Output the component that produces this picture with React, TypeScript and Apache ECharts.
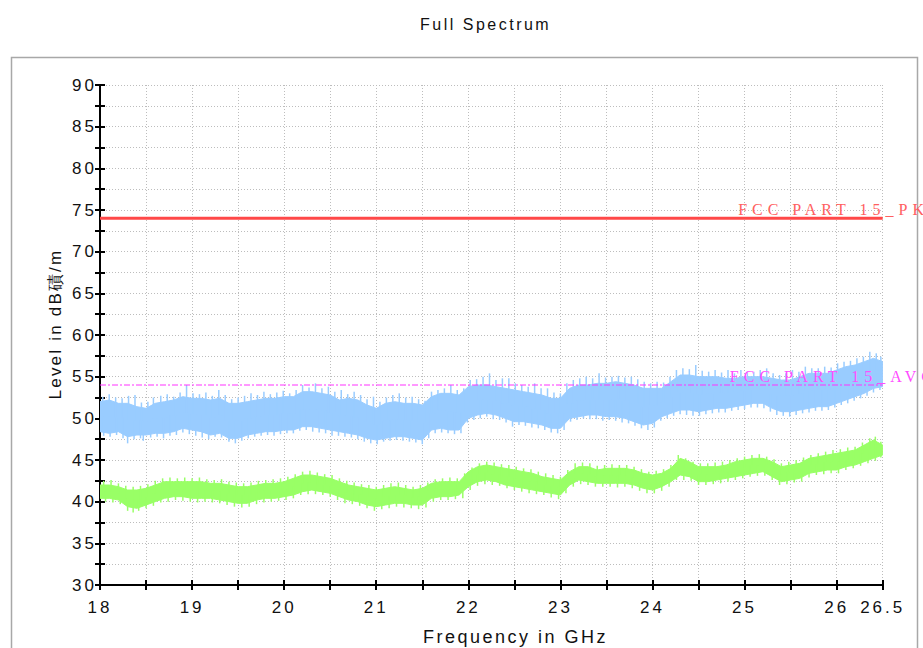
import React, { useEffect, useRef } from "react";
import * as echarts from "echarts";

// Frequency grid of the envelope readings (GHz), 18.0 … 26.5 in 0.1 steps
const freqGHz: number[] = [
  18.0, 18.1, 18.2, 18.3, 18.4, 18.5, 18.6, 18.7, 18.8, 18.9,
  19.0, 19.1, 19.2, 19.3, 19.4, 19.5, 19.6, 19.7, 19.8, 19.9,
  20.0, 20.1, 20.2, 20.3, 20.4, 20.5, 20.6, 20.7, 20.8, 20.9,
  21.0, 21.1, 21.2, 21.3, 21.4, 21.5, 21.6, 21.7, 21.8, 21.9,
  22.0, 22.1, 22.2, 22.3, 22.4, 22.5, 22.6, 22.7, 22.8, 22.9,
  23.0, 23.1, 23.2, 23.3, 23.4, 23.5, 23.6, 23.7, 23.8, 23.9,
  24.0, 24.1, 24.2, 24.3, 24.4, 24.5, 24.6, 24.7, 24.8, 24.9,
  25.0, 25.1, 25.2, 25.3, 25.4, 25.5, 25.6, 25.7, 25.8, 25.9,
  26.0, 26.1, 26.2, 26.3, 26.4, 26.5,
];

// Peak detector trace: upper / lower edge of the noise band (dBµV/m)
const peakHigh: number[] = [
  52.0, 52.2, 51.8, 51.8, 51.4, 51.2, 51.8, 52.0, 52.2, 52.6,
  52.4, 52.4, 52.2, 52.4, 51.8, 51.8, 52.0, 52.2, 52.4, 52.4,
  52.6, 52.6, 53.2, 53.2, 53.0, 52.8, 52.2, 52.4, 52.2, 51.6,
  51.2, 51.8, 52.0, 51.8, 51.8, 51.6, 52.6, 53.0, 53.0, 52.8,
  53.8, 54.0, 54.0, 53.8, 53.6, 53.4, 53.2, 53.0, 52.8, 52.4,
  52.4, 53.6, 54.0, 54.0, 54.2, 54.2, 54.4, 54.2, 54.0, 53.6,
  53.6, 53.6, 54.4, 55.2, 55.2, 55.0, 55.0, 55.0, 54.8, 54.8,
  55.0, 55.0, 55.0, 54.8, 54.6, 54.6, 55.0, 55.4, 55.4, 55.4,
  55.8, 56.2, 56.4, 56.8, 57.2, 56.8,
];
const peakLow: number[] = [
  48.4, 48.2, 48.4, 47.8, 48.0, 48.0, 48.2, 48.2, 48.4, 48.8,
  48.6, 48.4, 48.0, 48.2, 47.6, 47.6, 48.0, 48.2, 48.4, 48.4,
  48.6, 48.6, 49.0, 49.0, 48.8, 48.6, 48.4, 48.2, 48.0, 47.6,
  47.4, 47.6, 47.8, 47.8, 47.6, 47.4, 48.6, 48.8, 48.6, 48.6,
  50.0, 50.4, 50.6, 50.4, 50.0, 49.6, 49.6, 49.4, 49.2, 48.8,
  48.8, 50.0, 50.2, 50.4, 50.4, 50.2, 50.2, 50.0, 49.6, 49.2,
  49.4, 50.2, 50.6, 51.0, 51.0, 50.8, 51.0, 51.2, 51.2, 51.4,
  51.6, 51.8, 51.8, 51.2, 50.8, 50.8, 51.0, 51.2, 51.4, 51.4,
  51.8, 52.2, 52.6, 53.0, 53.6, 53.8,
];
// Peak-trace excursions beyond the band: [GHz, tip dB]
const peakUp: number[][] = [
  [18.03, 52.6], [18.1, 52.9], [18.17, 52.5], [18.24, 52.4], [18.31, 52.7], [18.38, 52.8],
  [18.45, 51.9], [18.52, 52.0], [18.58, 52.5], [18.66, 52.7], [18.73, 52.9], [18.8, 52.6],
  [18.87, 53.1], [18.94, 54.0], [19.01, 53.0], [19.08, 52.9], [19.15, 53.1], [19.22, 52.7],
  [19.29, 53.4], [19.36, 52.8], [19.43, 52.3], [19.5, 52.5], [19.57, 52.7], [19.64, 53.0],
  [19.71, 52.8], [19.78, 53.2], [19.85, 52.9], [19.92, 53.1], [19.99, 53.3], [20.06, 53.0],
  [20.13, 53.4], [20.2, 54.0], [20.27, 53.7], [20.34, 54.2], [20.41, 53.6], [20.48, 53.8],
  [20.55, 53.2], [20.62, 53.4], [20.69, 52.9], [20.76, 53.2], [20.83, 52.8], [20.9, 52.3],
  [20.97, 52.6], [21.04, 52.0], [21.11, 52.5], [21.18, 52.8], [21.25, 53.0], [21.32, 52.5],
  [21.39, 52.6], [21.46, 52.3], [21.53, 52.1], [21.6, 53.2], [21.67, 53.4], [21.74, 53.6],
  [21.81, 54.0], [21.88, 53.4], [21.95, 53.6], [22.02, 54.6], [22.09, 54.7], [22.16, 55.0],
  [22.23, 55.4], [22.3, 54.6], [22.37, 54.8], [22.44, 54.8], [22.51, 54.2], [22.58, 54.0],
  [22.65, 53.8], [22.72, 54.2], [22.79, 53.6], [22.86, 53.6], [22.93, 53.1], [23.0, 53.0],
  [23.07, 54.2], [23.14, 54.6], [23.21, 54.8], [23.28, 55.0], [23.35, 54.8], [23.42, 55.4],
  [23.49, 54.9], [23.56, 55.0], [23.63, 55.1], [23.7, 54.9], [23.77, 55.0], [23.84, 54.7],
  [23.91, 54.4], [23.98, 54.2], [24.05, 54.4], [24.12, 54.3], [24.19, 55.0], [24.26, 55.8],
  [24.33, 56.0], [24.4, 55.9], [24.47, 56.4], [24.54, 55.7], [24.61, 55.6], [24.68, 55.8],
  [24.75, 55.5], [24.82, 55.8], [24.89, 55.4], [24.96, 55.8], [25.03, 55.6], [25.1, 55.6],
  [25.17, 55.8], [25.24, 56.0], [25.31, 55.4], [25.38, 55.2], [25.45, 55.4], [25.52, 55.8],
  [25.59, 55.6], [25.66, 56.2], [25.73, 56.0], [25.8, 56.0], [25.87, 56.2], [25.94, 56.1],
  [26.01, 56.6], [26.08, 56.8], [26.15, 56.9], [26.22, 57.2], [26.29, 57.4], [26.36, 58.0],
  [26.43, 57.8], [26.48, 57.4],
];
const peakDown: number[][] = [
  [18.04, 47.9], [18.11, 47.8], [18.18, 48.0], [18.25, 47.6], [18.3, 47.0], [18.37, 47.5],
  [18.44, 47.6], [18.47, 47.3], [18.55, 47.7], [18.62, 47.8], [18.69, 47.6], [18.76, 47.9],
  [18.83, 48.0], [18.9, 48.3], [18.97, 48.1], [19.04, 47.9], [19.11, 47.7], [19.18, 47.5],
  [19.25, 47.8], [19.32, 47.7], [19.4, 47.2], [19.47, 47.0], [19.54, 47.3], [19.61, 47.6],
  [19.68, 47.8], [19.75, 47.9], [19.82, 48.0], [19.89, 47.9], [19.96, 48.1], [20.03, 48.2],
  [20.1, 48.2], [20.17, 48.5], [20.24, 48.6], [20.31, 48.4], [20.38, 48.3], [20.45, 48.2],
  [20.52, 47.9], [20.59, 47.9], [20.66, 47.8], [20.73, 47.7], [20.8, 47.5], [20.87, 47.2],
  [20.94, 47.0], [21.01, 46.9], [21.08, 47.2], [21.15, 47.3], [21.22, 47.4], [21.29, 47.3],
  [21.36, 47.2], [21.43, 47.1], [21.5, 46.9], [21.57, 47.6], [21.64, 48.2], [21.71, 48.3],
  [21.78, 48.2], [21.85, 48.1], [21.92, 48.2], [21.99, 49.5], [22.06, 49.8], [22.13, 50.0],
  [22.2, 50.2], [22.27, 49.9], [22.34, 49.8], [22.41, 49.5], [22.48, 49.0], [22.55, 49.2],
  [22.62, 49.1], [22.69, 48.9], [22.76, 48.8], [22.83, 48.6], [22.9, 48.3], [22.97, 48.2],
  [23.04, 48.6], [23.11, 49.6], [23.18, 49.8], [23.25, 50.0], [23.32, 49.9], [23.39, 49.9],
  [23.46, 49.7], [23.53, 49.8], [23.6, 49.7], [23.67, 49.5], [23.74, 49.4], [23.81, 49.1],
  [23.88, 48.8], [23.95, 48.6], [24.02, 48.9], [24.09, 49.7], [24.16, 50.0], [24.23, 50.3],
  [24.3, 50.5], [24.37, 50.4], [24.44, 50.3], [24.51, 50.3], [24.58, 50.5], [24.65, 50.6],
  [24.72, 50.7], [24.79, 50.7], [24.86, 50.9], [24.93, 51.0], [25.0, 51.1], [25.07, 51.3],
  [25.14, 51.3], [25.21, 51.2], [25.28, 50.8], [25.35, 50.4], [25.42, 50.3], [25.49, 50.2],
  [25.56, 50.4], [25.63, 50.6], [25.7, 50.7], [25.77, 50.9], [25.84, 50.9], [25.91, 51.0],
  [25.98, 51.3], [26.05, 51.6], [26.12, 51.8], [26.19, 52.1], [26.26, 52.4], [26.33, 52.7],
  [26.4, 53.1], [26.47, 53.4],
];

// Average detector trace: upper / lower edge (dBµV/m)
const avgHigh: number[] = [
  42.0, 42.0, 41.8, 41.4, 41.4, 41.6, 42.0, 42.4, 42.4, 42.4,
  42.4, 42.4, 42.2, 42.2, 42.0, 41.8, 41.8, 42.0, 42.2, 42.2,
  42.4, 42.8, 43.2, 43.2, 43.0, 42.8, 42.4, 42.0, 41.8, 41.6,
  41.4, 41.6, 41.8, 41.6, 41.4, 41.6, 42.2, 42.4, 42.4, 42.4,
  43.6, 44.2, 44.4, 44.2, 44.0, 43.8, 43.6, 43.4, 43.0, 42.8,
  42.6, 43.6, 44.2, 44.2, 43.8, 44.0, 44.0, 44.0, 43.8, 43.4,
  43.2, 43.4, 44.0, 45.2, 44.8, 44.2, 44.2, 44.2, 44.4, 44.8,
  45.0, 45.2, 45.2, 44.8, 44.2, 44.4, 44.6, 45.2, 45.4, 45.6,
  45.8, 46.0, 46.2, 46.8, 47.4, 46.8,
];
const avgLow: number[] = [
  40.4, 40.4, 40.2, 39.4, 39.2, 39.6, 40.0, 40.4, 40.6, 40.6,
  40.4, 40.4, 40.4, 40.2, 40.0, 39.8, 39.8, 40.2, 40.4, 40.4,
  40.6, 40.8, 41.2, 41.4, 41.2, 41.0, 40.6, 40.2, 40.0, 39.6,
  39.4, 39.6, 39.8, 39.8, 39.6, 39.6, 40.4, 40.6, 40.6, 40.8,
  41.8, 42.4, 42.6, 42.4, 42.0, 41.8, 41.6, 41.4, 41.2, 41.0,
  40.8, 42.0, 42.6, 42.4, 42.2, 42.2, 42.2, 42.2, 42.0, 41.6,
  41.4, 41.8, 42.4, 43.2, 43.0, 42.4, 42.4, 42.6, 42.8, 43.0,
  43.2, 43.4, 43.6, 43.0, 42.4, 42.6, 42.8, 43.4, 43.6, 43.8,
  43.8, 44.2, 44.4, 44.8, 45.2, 45.6,
];
const avgUp: number[][] = [
  [18.04, 42.5], [18.12, 42.6], [18.2, 42.2], [18.28, 41.9], [18.36, 41.8], [18.44, 41.9],
  [18.52, 42.1], [18.6, 42.5], [18.68, 42.8], [18.76, 42.9], [18.84, 42.8], [18.92, 42.9],
  [19.0, 42.8], [19.08, 42.9], [19.16, 42.7], [19.24, 42.6], [19.32, 42.7], [19.4, 42.4],
  [19.48, 42.3], [19.56, 42.2], [19.64, 42.3], [19.72, 42.5], [19.8, 42.6], [19.88, 42.7],
  [19.96, 42.8], [20.04, 43.0], [20.12, 43.3], [20.2, 43.6], [20.28, 43.7], [20.36, 43.5],
  [20.44, 43.3], [20.52, 43.2], [20.6, 42.8], [20.68, 42.5], [20.76, 42.3], [20.84, 42.1],
  [20.92, 42.0], [21.0, 41.8], [21.08, 42.0], [21.16, 42.2], [21.24, 42.3], [21.32, 42.0],
  [21.4, 41.8], [21.48, 42.0], [21.56, 42.3], [21.64, 42.7], [21.72, 42.8], [21.8, 42.9],
  [21.88, 42.8], [21.96, 43.4], [22.04, 44.1], [22.12, 44.6], [22.2, 44.8], [22.28, 44.7],
  [22.36, 44.5], [22.44, 44.4], [22.52, 44.2], [22.6, 44.0], [22.68, 43.9], [22.76, 43.6],
  [22.84, 43.4], [22.92, 43.2], [23.0, 43.0], [23.08, 43.8], [23.16, 44.6], [23.24, 44.7],
  [23.32, 44.6], [23.4, 44.3], [23.48, 44.4], [23.56, 44.5], [23.64, 44.4], [23.72, 44.4],
  [23.8, 44.2], [23.88, 43.9], [23.96, 43.6], [24.04, 43.7], [24.12, 43.9], [24.2, 44.4],
  [24.28, 45.6], [24.36, 45.2], [24.44, 44.8], [24.52, 44.6], [24.6, 44.6], [24.68, 44.7],
  [24.76, 44.8], [24.84, 45.0], [24.92, 45.2], [25.0, 45.4], [25.08, 45.6], [25.16, 45.7],
  [25.24, 45.4], [25.32, 45.1], [25.4, 44.6], [25.48, 44.8], [25.56, 45.0], [25.64, 45.3],
  [25.72, 45.6], [25.8, 45.8], [25.88, 46.0], [25.96, 46.2], [26.04, 46.3], [26.12, 46.5],
  [26.2, 46.6], [26.28, 47.1], [26.36, 47.6], [26.42, 47.8], [26.48, 47.2],
];
const avgDown: number[][] = [
  [18.06, 40.0], [18.14, 39.9], [18.22, 39.7], [18.3, 38.9], [18.36, 38.7], [18.42, 38.9],
  [18.5, 39.2], [18.58, 39.5], [18.66, 39.9], [18.74, 40.0], [18.82, 40.2], [18.9, 40.1],
  [18.98, 40.0], [19.06, 39.9], [19.14, 40.0], [19.22, 39.9], [19.3, 39.8], [19.38, 39.6],
  [19.46, 39.4], [19.54, 39.3], [19.62, 39.4], [19.7, 39.7], [19.78, 39.9], [19.86, 40.0],
  [19.94, 40.1], [20.02, 40.2], [20.1, 40.4], [20.18, 40.8], [20.26, 40.9], [20.34, 40.9],
  [20.42, 40.8], [20.5, 40.6], [20.58, 40.2], [20.66, 39.8], [20.74, 39.7], [20.82, 39.5],
  [20.9, 39.2], [20.98, 38.9], [21.06, 39.1], [21.14, 39.2], [21.22, 39.4], [21.3, 39.3],
  [21.38, 39.2], [21.46, 39.1], [21.54, 39.3], [21.62, 40.0], [21.7, 40.2], [21.78, 40.2],
  [21.86, 40.3], [21.94, 40.4], [22.02, 41.4], [22.1, 41.9], [22.18, 42.1], [22.26, 42.0],
  [22.34, 41.9], [22.42, 41.6], [22.5, 41.4], [22.58, 41.2], [22.66, 41.0], [22.74, 40.9],
  [22.82, 40.8], [22.9, 40.5], [22.98, 40.3], [23.06, 41.0], [23.14, 41.8], [23.22, 42.1],
  [23.3, 42.0], [23.38, 41.8], [23.46, 41.8], [23.54, 41.8], [23.62, 41.7], [23.7, 41.8],
  [23.78, 41.6], [23.86, 41.3], [23.94, 41.0], [24.02, 41.0], [24.1, 41.3], [24.18, 41.8],
  [24.26, 42.6], [24.34, 42.6], [24.42, 42.5], [24.5, 42.0], [24.58, 42.0], [24.66, 42.1],
  [24.74, 42.2], [24.82, 42.4], [24.9, 42.6], [24.98, 42.8], [25.06, 43.0], [25.14, 43.1],
  [25.22, 43.1], [25.3, 42.6], [25.38, 42.0], [25.46, 42.1], [25.54, 42.3], [25.62, 42.4],
  [25.7, 42.9], [25.78, 43.2], [25.86, 43.3], [25.94, 43.4], [26.02, 43.4], [26.1, 43.8],
  [26.18, 44.0], [26.26, 44.3], [26.34, 44.6], [26.42, 44.9], [26.48, 45.3],
];

// Limit lines
const limitNames: string[] = ["FCC PART 15_PK", "FCC PART 15_AVG"];
const limitLevels: number[] = [74, 54];
const limitLabelFreqs: number[] = [24.93, 24.84];

const freqMin = 18;
const freqMax = 26.5;
const levelMin = 30;
const levelMax = 90;

const SANS = "'Liberation Sans', Arial, sans-serif";
const SERIF = "'Liberation Serif', 'Times New Roman', serif";

// Nearest envelope sample for a frequency
function nearestIndex(f: number): number {
  let best = 0;
  for (let i = 1; i < freqGHz.length; i++) {
    if (Math.abs(freqGHz[i] - f) < Math.abs(freqGHz[best] - f)) best = i;
  }
  return best;
}

function bandSeries(hi: number[], lo: number[], up: number[][], down: number[][], color: string) {
  return {
    type: "custom",
    xAxisIndex: 0,
    yAxisIndex: 0,
    clip: true,
    silent: true,
    data: [[freqGHz[0], lo[0]]],
    renderItem: (_params: any, api: any) => {
      const pts: number[][] = [];
      for (let i = 0; i < freqGHz.length; i++) pts.push(api.coord([freqGHz[i], hi[i]]));
      for (let i = freqGHz.length - 1; i >= 0; i--) pts.push(api.coord([freqGHz[i], lo[i]]));
      const children: any[] = [
        { type: "polygon", shape: { points: pts }, style: { fill: color, stroke: color, lineWidth: 1 } },
      ];
      const spike = (f: number, tip: number) => {
        const i = nearestIndex(f);
        const mid = (hi[i] + lo[i]) / 2;
        const p1 = api.coord([f, mid]);
        const p2 = api.coord([f, tip]);
        children.push({
          type: "line",
          shape: { x1: p1[0], y1: p1[1], x2: p2[0], y2: p2[1] },
          style: { stroke: color, lineWidth: 1.5 },
        });
      };
      up.forEach(([f, v]) => spike(f, v));
      down.forEach(([f, v]) => spike(f, v));
      return { type: "group", children };
    },
  };
}

export default function App() {
  const ref = useRef<HTMLDivElement>(null);

  useEffect(() => {
    if (!ref.current) return;
    const chart = echarts.init(ref.current, undefined, { renderer: "svg" });

    const tickStyle = { color: "#000", width: 2 };
    const splitStyle = { color: "#bdbdbd", width: 1, type: [1, 2] as any };

    const limitColors = ["#ff4848", "#ff33ff"];
    const limitLabelColors = ["#ff6060", "#ff4dff"];

    const option: any = {
      animation: false,
      backgroundColor: "#ffffff",
      title: {
        text: "Full Spectrum",
        left: 415,
        top: 11,
        textStyle: { fontFamily: SANS, fontSize: 16, fontWeight: "normal", color: "#111" },
      },
      grid: { left: 100, top: 85, width: 782.7, height: 500, containLabel: false },
      xAxis: [
        {
          type: "value",
          min: freqMin,
          max: freqMax,
          interval: 0.5,
          position: "bottom",
          axisLine: { show: true, lineStyle: tickStyle },
          axisTick: { show: true, inside: false, length: 5, lineStyle: tickStyle },
          axisLabel: {
            margin: 14,
            color: "#111",
            fontFamily: SANS,
            fontSize: 17,
            formatter: (v: number) => (Number.isInteger(v) || v === freqMax ? String(v) : ""),
          },
          splitLine: { show: true, lineStyle: splitStyle },
        },
        {
          type: "value",
          min: freqMin,
          max: freqMax,
          interval: 0.5,
          position: "bottom",
          axisLine: { show: false },
          axisTick: { show: true, inside: true, length: 5, lineStyle: tickStyle },
          axisLabel: { show: false },
          splitLine: { show: false },
        },
      ],
      yAxis: [
        {
          type: "value",
          min: levelMin,
          max: levelMax,
          interval: 2.5,
          position: "left",
          axisLine: { show: true, lineStyle: tickStyle },
          axisTick: { show: true, inside: false, length: 5, lineStyle: tickStyle },
          axisLabel: {
            margin: 3,
            color: "#111",
            fontFamily: SANS,
            fontSize: 17,
            formatter: (v: number) => (v % 5 === 0 ? String(v) : ""),
          },
          splitLine: { show: true, lineStyle: splitStyle },
        },
        {
          type: "value",
          min: levelMin,
          max: levelMax,
          interval: 2.5,
          position: "left",
          axisLine: { show: false },
          axisTick: { show: true, inside: true, length: 5, lineStyle: tickStyle },
          axisLabel: { show: false },
          splitLine: { show: false },
        },
      ],
      graphic: [
        {
          type: "rect",
          z: -10,
          shape: { x: 11.5, y: 57.5, width: 906, height: 640 },
          style: { fill: "none", stroke: "#a8a8a8", lineWidth: 1.5 },
        },
        {
          type: "text",
          x: 55,
          y: 324,
          rotation: Math.PI / 2,
          style: {
            text: "Level in dB磧/m",
            fill: "#111",
            font: `17px ${SANS}`,
            textAlign: "center",
            textVerticalAlign: "middle",
          },
        },
        {
          type: "text",
          x: 423,
          y: 637,
          style: {
            text: "Frequency in GHz",
            fill: "#111",
            font: `18px ${SANS}`,
            textAlign: "left",
            textVerticalAlign: "middle",
          },
        },
      ],
      series: [
        bandSeries(peakHigh, peakLow, peakUp, peakDown, "#99ccff"),
        bandSeries(avgHigh, avgLow, avgUp, avgDown, "#99ff66"),
        ...limitLevels.map((lv, k) => ({
          type: "line",
          name: limitNames[k],
          xAxisIndex: 0,
          yAxisIndex: 0,
          symbol: "none",
          silent: true,
          data: [
            [freqMin, lv],
            [freqMax, lv],
          ],
          lineStyle:
            k === 0
              ? { color: limitColors[k], width: 3 }
              : { color: limitColors[k], width: 1, type: [6, 2, 2, 2] },
          z: 3,
        })),
        {
          type: "custom",
          xAxisIndex: 0,
          yAxisIndex: 0,
          clip: false,
          silent: true,
          z: 4,
          data: limitLevels.map((lv, k) => [limitLabelFreqs[k], lv, k]),
          renderItem: (_params: any, api: any) => {
            const k = api.value(2);
            const p = api.coord([api.value(0), api.value(1)]);
            return {
              type: "text",
              x: p[0],
              y: p[1] - 1,
              style: {
                text: limitNames[k],
                fill: limitLabelColors[k],
                font: `16px ${SERIF}`,
                textAlign: "left",
                textVerticalAlign: "bottom",
              },
            };
          },
        },
      ],
    };

    chart.setOption(option);

    // Spaced-out lettering of the instrument plot
    const spaceLetters = () => {
      const texts = ref.current?.querySelectorAll("text") ?? [];
      texts.forEach((t) => {
        const s = t.textContent || "";
        let ls = 3;
        if (s.startsWith("FCC")) ls = 5;
        else if (s.startsWith("Level")) ls = 2.2;
        else if (s.startsWith("Frequency")) ls = 2.5;
        else if (s.startsWith("Full")) ls = 2.5;
        t.setAttribute("letter-spacing", String(ls));
      });
    };
    spaceLetters();
    chart.on("finished", spaceLetters);

    return () => {
      chart.dispose();
    };
  }, []);

  return (
    <div
      ref={ref}
      style={{ position: "absolute", left: 0, top: 0, width: 923, height: 648, background: "#fff" }}
    />
  );
}
